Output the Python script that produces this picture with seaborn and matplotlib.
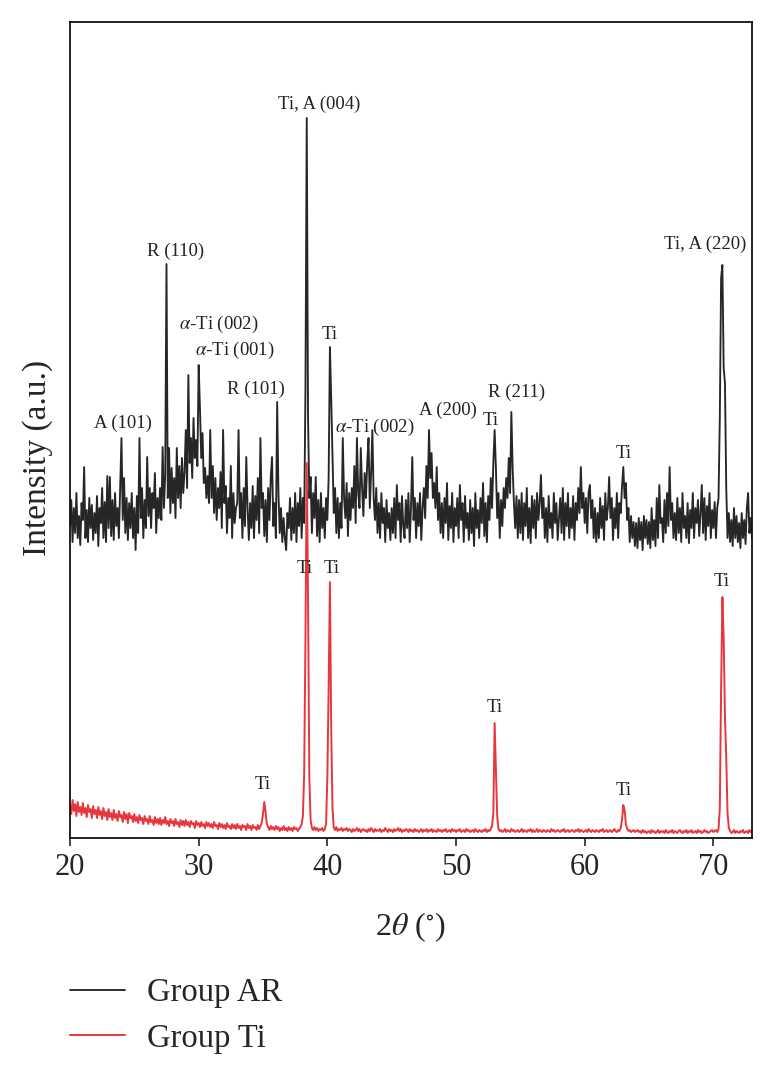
import numpy as np
import pandas as pd
import matplotlib
matplotlib.use('Agg')
import matplotlib.pyplot as plt
import seaborn as sns

# 2theta grid, 0.1 degree steps from 20 to 73
two_theta = np.round(np.arange(20.0, 73.05, 0.1), 1)

# Group AR (offset trace)
group_ar = [
    312, 338, 296, 330, 305, 345, 300, 322, 293, 335,   # 20
    318, 371, 300, 328, 296, 340, 310, 333, 298, 325,   # 21
    305, 342, 292, 330, 315, 350, 300, 336, 296, 362,   # 22
    310, 361, 302, 338, 298, 345, 312, 330, 300, 352,   # 23
    400, 318, 360, 305, 340, 298, 335, 310, 345, 300,   # 24
    330, 288, 342, 305, 400, 320, 350, 300, 338, 310,   # 25
    381, 322, 350, 310, 345, 330, 365, 305, 340, 320,   # 26
    350, 318, 391, 330, 362, 574, 340, 390, 325, 370,   # 27
    335, 360, 320, 390, 340, 372, 330, 380, 345, 365,   # 28
    408, 350, 463, 375, 400, 360, 420, 380, 398, 372,   # 29
    473, 430, 380, 405, 355, 370, 340, 362, 335, 408,   # 30
    340, 372, 325, 360, 318, 350, 330, 366, 310, 408,   # 31
    335, 352, 305, 340, 320, 372, 300, 345, 315, 330,   # 32
    335, 408, 320, 345, 300, 350, 312, 381, 330, 298,   # 33
    335, 310, 352, 300, 342, 318, 360, 305, 400, 330,   # 34
    345, 302, 338, 296, 350, 318, 360, 381, 312, 335,   # 35
    300, 436, 345, 305, 330, 296, 320, 300, 288, 325,   # 36
    310, 340, 298, 330, 305, 345, 296, 335, 312, 350,   # 37
    300, 340, 315, 450, 720, 420, 340, 361, 305, 345,   # 38
    320, 361, 302, 338, 296, 345, 310, 330, 300, 340,   # 39
    318, 360, 491, 440, 380, 325, 350, 305, 340, 300,   # 40
    335, 310, 400, 340, 320, 355, 302, 345, 318, 350,   # 41
    330, 372, 315, 400, 345, 330, 390, 350, 322, 365,   # 42
    340, 375, 400, 330, 365, 408, 340, 318, 350, 305,   # 43
    335, 300, 345, 315, 330, 296, 338, 310, 325, 298,   # 44
    330, 305, 340, 300, 353, 318, 335, 296, 342, 312,   # 45
    300, 338, 310, 345, 296, 330, 381, 318, 340, 300,   # 46
    335, 312, 345, 298, 330, 350, 320, 372, 340, 408,   # 47
    360, 385, 340, 355, 330, 371, 318, 345, 305, 335,   # 48
    300, 340, 315, 355, 298, 332, 310, 345, 296, 330,   # 49
    312, 340, 300, 353, 318, 335, 296, 342, 310, 325,   # 50
    298, 338, 305, 330, 292, 345, 310, 328, 300, 340,   # 51
    315, 355, 302, 335, 296, 342, 318, 360, 330, 375,   # 52
    408, 370, 320, 345, 300, 338, 312, 350, 330, 360,   # 53
    340, 380, 345, 426, 370, 335, 310, 342, 300, 338,   # 54
    305, 345, 298, 335, 312, 350, 300, 330, 295, 342,   # 55
    310, 338, 300, 345, 318, 335, 363, 320, 340, 300,   # 56
    330, 296, 342, 310, 325, 300, 345, 315, 335, 298,   # 57
    320, 340, 305, 350, 298, 335, 312, 345, 300, 330,   # 58
    310, 342, 298, 335, 318, 350, 325, 371, 330, 345,   # 59
    315, 340, 305, 345, 353, 320, 338, 300, 330, 296,   # 60
    325, 300, 340, 310, 332, 298, 345, 318, 330, 361,   # 61
    320, 340, 298, 330, 310, 345, 300, 335, 325, 352,   # 62
    371, 340, 355, 318, 330, 296, 322, 300, 316, 292,   # 63
    315, 290, 320, 298, 316, 288, 322, 300, 318, 294,   # 64
    316, 290, 330, 298, 318, 292, 340, 300, 353, 315,   # 65
    320, 296, 338, 305, 345, 312, 371, 318, 335, 300,   # 66
    325, 298, 340, 305, 330, 296, 345, 310, 322, 300,   # 67
    335, 295, 328, 310, 345, 300, 330, 315, 338, 302,   # 68
    325, 353, 305, 340, 298, 332, 312, 345, 300, 328,   # 69
    310, 336, 300, 330, 340, 420, 560, 573, 470, 455,   # 70
    350, 300, 325, 296, 318, 292, 330, 300, 322, 296,   # 71
    315, 290, 325, 300, 318, 294, 330, 345, 305, 320,   # 72
    300,                                                # 73
]

# Group Ti (bottom trace)
group_ti = [
    32, 24, 38, 27, 34, 22, 36, 26, 31, 23,     # 20
    35, 25, 30, 21, 33, 26, 29, 20, 32, 24,     # 21
    28, 20, 31, 23, 27, 19, 30, 22, 26, 18,     # 22
    29, 21, 25, 18, 28, 20, 24, 17, 27, 21,     # 23
    23, 16, 26, 19, 24, 15, 25, 20, 22, 16,     # 24
    24, 17, 21, 15, 23, 18, 20, 14, 22, 17,     # 25
    19, 14, 22, 16, 18, 13, 21, 15, 19, 14,     # 26
    20, 13, 18, 15, 21, 14, 17, 12, 19, 15,     # 27
    17, 12, 19, 14, 16, 11, 18, 13, 17, 12,     # 28
    18, 13, 16, 11, 17, 14, 15, 10, 17, 13,     # 29
    15, 11, 16, 12, 14, 10, 16, 12, 15, 11,     # 30
    14, 10, 16, 12, 13, 9, 15, 11, 14, 10,      # 31
    13, 9, 15, 11, 12, 9, 14, 10, 13, 9,        # 32
    14, 10, 12, 8, 13, 11, 12, 8, 14, 10,       # 33
    12, 8, 13, 10, 11, 8, 13, 9, 12, 15,        # 34
    24, 36, 26, 14, 11, 8, 12, 9, 11, 8,        # 35
    12, 9, 11, 7, 10, 8, 12, 8, 10, 7,          # 36
    11, 8, 10, 7, 11, 9, 10, 7, 9, 11,          # 37
    14, 22, 65, 200, 375, 240, 60, 18, 10, 8,   # 38
    11, 8, 10, 7, 9, 8, 10, 7, 9, 14,           # 39
    60, 150, 256, 110, 30, 10, 8, 11, 7, 9,     # 40
    8, 10, 7, 9, 8, 10, 7, 9, 8, 6,             # 41
    9, 7, 8, 10, 7, 9, 6, 8, 9, 7,              # 42
    8, 6, 9, 7, 10, 8, 6, 9, 7, 8,              # 43
    7, 9, 6, 8, 7, 10, 8, 6, 9, 7,              # 44
    8, 6, 9, 7, 8, 10, 7, 9, 6, 8,              # 45
    7, 9, 8, 6, 9, 7, 8, 6, 9, 7,               # 46
    8, 6, 7, 9, 6, 8, 7, 9, 6, 8,               # 47
    7, 9, 6, 8, 7, 6, 9, 7, 8, 6,               # 48
    8, 7, 9, 6, 7, 8, 6, 9, 7, 8,               # 49
    6, 8, 7, 9, 6, 7, 8, 6, 9, 7,               # 50
    8, 6, 7, 8, 6, 9, 7, 6, 8, 7,               # 51
    6, 8, 7, 9, 6, 8, 7, 9, 12, 25,             # 52
    115, 70, 22, 9, 7, 8, 6, 7, 9, 6,           # 53
    8, 7, 6, 9, 7, 8, 6, 7, 8, 6,               # 54
    7, 9, 6, 8, 7, 6, 8, 7, 9, 6,               # 55
    8, 6, 7, 9, 6, 8, 7, 6, 8, 7,               # 56
    6, 8, 7, 6, 9, 7, 8, 6, 7, 8,               # 57
    7, 6, 8, 7, 9, 6, 7, 8, 6, 7,               # 58
    8, 7, 6, 8, 7, 9, 6, 8, 7, 6,               # 59
    7, 8, 6, 9, 7, 6, 8, 7, 6, 8,               # 60
    7, 6, 8, 7, 9, 6, 7, 8, 6, 7,               # 61
    8, 6, 7, 9, 7, 6, 8, 7, 10, 18,             # 62
    33, 28, 14, 9, 7, 8, 6, 7, 8, 6,            # 63
    7, 8, 6, 7, 5, 8, 6, 7, 5, 6,               # 64
    7, 5, 8, 6, 7, 5, 6, 8, 5, 7,               # 65
    6, 7, 5, 8, 6, 5, 7, 6, 8, 5,               # 66
    7, 6, 5, 7, 8, 6, 5, 7, 6, 8,               # 67
    5, 7, 6, 8, 5, 6, 7, 5, 8, 6,               # 68
    7, 5, 6, 8, 6, 7, 5, 6, 7, 8,               # 69
    6, 7, 8, 6, 9, 30, 150, 241, 200, 121,      # 70
    80, 25, 10, 7, 5, 6, 8, 5, 7, 6,            # 71
    5, 7, 6, 8, 5, 6, 7, 5, 8, 6,               # 72
    7,                                          # 73
]

# peak annotations: text, 2theta, intensity
ar_labels = [
    ("A (101)", 24.1, 415),
    ("R (110)", 28.2, 587),
    (r"$\alpha$-Ti (002)", 31.6, 514),
    (r"$\alpha$-Ti (001)", 32.8, 488),
    ("R (101)", 34.45, 449),
    ("Ti, A (004)", 39.35, 734),
    ("Ti", 40.2, 504),
    (r"$\alpha$-Ti (002)", 43.7, 411),
    ("A (200)", 49.4, 428),
    ("Ti", 52.7, 418),
    ("R (211)", 54.7, 446),
    ("Ti", 63.0, 385),
    ("Ti, A (220)", 69.35, 594),
]
ti_labels = [
    ("Ti", 35.0, 54),
    ("Ti", 38.26, 270),
    ("Ti", 40.35, 270),
    ("Ti", 53.0, 131),
    ("Ti", 63.05, 48),
    ("Ti", 70.65, 257),
]

df_ar = pd.DataFrame({'two_theta': two_theta, 'intensity': group_ar})
df_ti = pd.DataFrame({'two_theta': two_theta, 'intensity': group_ti})

sns.set_style('ticks')
plt.rcParams['font.family'] = ['Liberation Serif', 'DejaVu Serif']
plt.rcParams['mathtext.fontset'] = 'stix'

fig = plt.figure(figsize=(7.75, 10.7), dpi=100)
ax = fig.add_axes([0.0903, 0.2168, 0.880, 0.7626])

sns.lineplot(data=df_ar, x='two_theta', y='intensity', color='#262626',
             linewidth=1.35, ax=ax, label='Group AR')
sns.lineplot(data=df_ti, x='two_theta', y='intensity', color='#e8363d',
             linewidth=1.4, ax=ax, label='Group Ti')
if ax.get_legend() is not None:
    ax.get_legend().remove()

for txt, x, y in ar_labels + ti_labels:
    ax.text(x, y, txt, ha='center', va='center', fontsize=13.5, color='#222222')

ax.set_xlim(20, 73)
ax.set_ylim(0, 816)
ax.set_xticks([20, 30, 40, 50, 60, 70])
ax.set_yticks([])
ax.tick_params(axis='x', direction='out', length=6, width=1.2, labelsize=22, pad=5)
for s in ax.spines.values():
    s.set_linewidth(1.3)
    s.set_color('#111111')

ax.set_xlabel(r"2$\theta$ ($^{\circ}$)", fontsize=23, labelpad=20)
ax.set_ylabel("Intensity (a.u.)", fontsize=24)
ax.yaxis.set_label_coords(-0.025, 0.466)

handles = ax.lines[:2]
fig.legend(handles=handles, labels=['Group AR', 'Group Ti'], loc='upper left',
           bbox_to_anchor=(70 / 775, 1 - 978 / 1070), frameon=False, fontsize=23.5,
           handlelength=1.7, handletextpad=0.67, labelspacing=0.45,
           borderpad=0, borderaxespad=0)

fig.savefig('out.png', dpi=100)
